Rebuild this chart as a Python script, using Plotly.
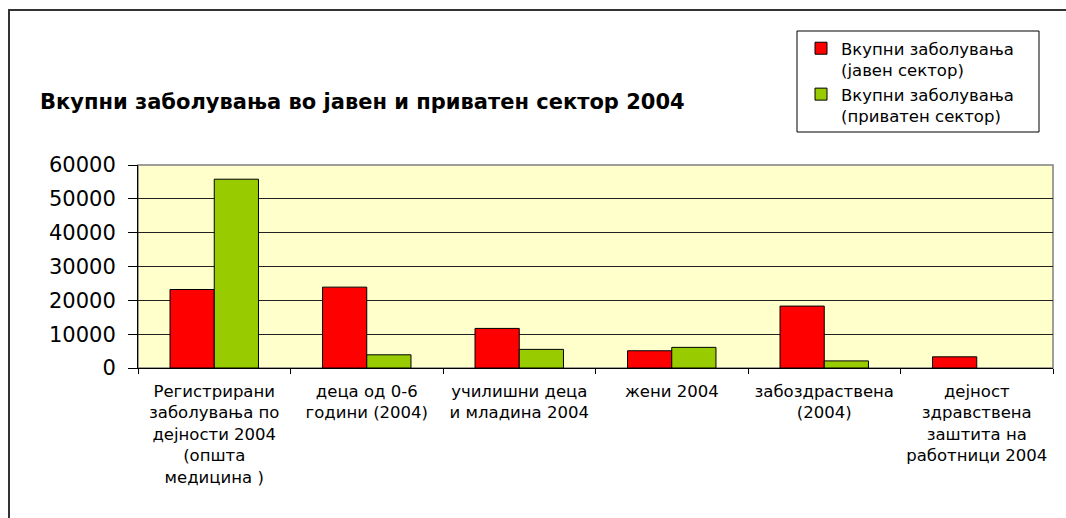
import plotly.graph_objects as go

categories = [
    "Регистрирани<br>заболувања по<br>дејности 2004<br>(општа<br>медицина )",
    "деца од 0-6<br>години (2004)",
    "училишни деца<br>и младина 2004",
    "жени 2004",
    "забоздраствена<br>(2004)",
    "дејност<br>здравствена<br>заштита на<br>работници 2004",
]
public_sector = [23200, 23900, 11700, 5100, 18300, 3300]
private_sector = [55800, 3900, 5500, 6100, 2100, None]
series_names = [
    "Вкупни заболувања<br>(јавен сектор)",
    "Вкупни заболувања<br>(приватен сектор)",
]
title_text = "Вкупни заболувања во јавен и приватен сектор 2004"
y_ticks = [0, 10000, 20000, 30000, 40000, 50000, 60000]

FONT = "DejaVu Sans"
W, H = 1066, 518
L, R, T, B = 138, 13, 165, 150
PW, PH = W - L - R, H - T - B


def px_x(x):
    return (x - L) / PW


def px_y(y):
    return (H - B - y) / PH


fig = go.Figure()
fig.add_bar(
    x=categories, y=public_sector, name=series_names[0],
    marker=dict(color="#FF0000", line=dict(color="#000000", width=1)),
)
fig.add_bar(
    x=categories, y=private_sector, name=series_names[1],
    marker=dict(color="#99CC00", line=dict(color="#000000", width=1)),
)

fig.update_layout(
    width=W, height=H,
    margin=dict(l=L, r=R, t=T, b=B, autoexpand=False),
    paper_bgcolor="#FFFFFF",
    plot_bgcolor="#FFFFCC",
    barmode="group",
    bargap=0.42,
    bargroupgap=0,
    font=dict(family=FONT, color="#000000"),
    legend=dict(
        x=px_x(801), y=px_y(31), xanchor="left", yanchor="top",
        font=dict(family=FONT, size=16.5, color="#000000"),
        bgcolor="rgba(0,0,0,0)", borderwidth=0,
        valign="top", tracegroupgap=1,
    ),
    showlegend=True,
)

fig.update_xaxes(
    type="category",
    tickson="boundaries",
    tickangle=0,
    ticks="outside", ticklen=5, tickcolor="#000000",
    showline=True, linecolor="#000000", linewidth=1,
    showgrid=False,
    tickfont=dict(family=FONT, size=16.5, color="#000000"),
    ticklabelstandoff=8,
)
fig.update_yaxes(
    range=[0, 60000],
    tickvals=y_ticks,
    ticktext=[str(v) for v in y_ticks],
    ticks="outside", ticklen=9, tickcolor="#000000",
    showline=True, linecolor="#000000", linewidth=1,
    showgrid=True, gridcolor="#222222", gridwidth=1,
    zeroline=False,
    tickfont=dict(family=FONT, size=21, color="#000000"),
    ticklabelstandoff=8,
)

# plot-area outline (top and right edges)
fig.add_shape(
    type="rect", xref="paper", yref="paper",
    x0=0, x1=1, y0=0, y1=1,
    line=dict(color="#808080", width=1.5), layer="below",
)
# outer chart frame
fig.add_shape(
    type="rect", xref="paper", yref="paper",
    x0=px_x(9), x1=px_x(1075), y0=px_y(525), y1=px_y(10),
    line=dict(color="#333333", width=2),
)
# legend box
fig.add_shape(
    type="rect", xref="paper", yref="paper",
    x0=px_x(797), x1=px_x(1039), y0=px_y(132), y1=px_y(31),
    line=dict(color="#000000", width=1),
)

fig.add_annotation(
    text="<b>" + title_text + "</b>",
    xref="paper", yref="paper",
    x=px_x(38), y=px_y(102), xanchor="left", yanchor="middle",
    showarrow=False,
    font=dict(family=FONT, size=21, color="#000000"),
)

fig.write_html("out.html")
